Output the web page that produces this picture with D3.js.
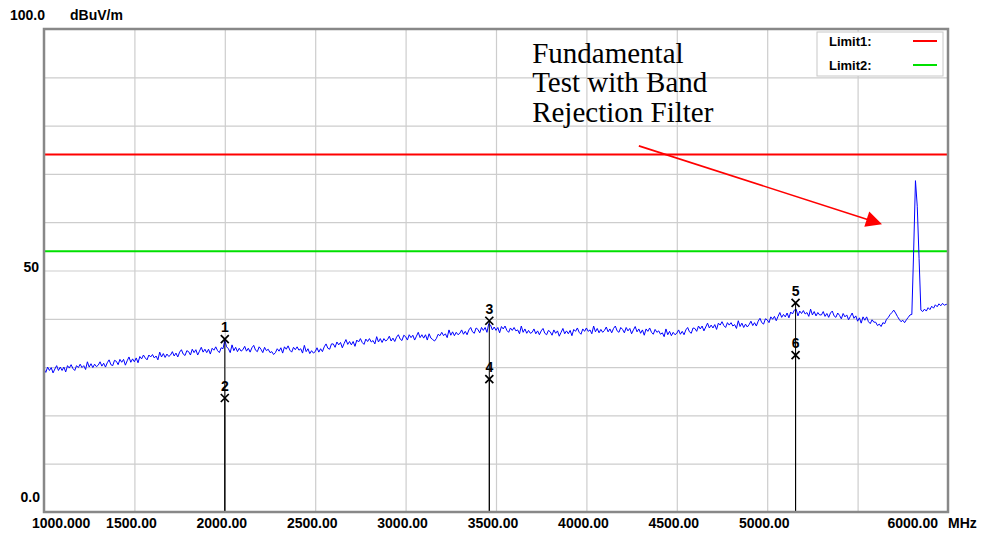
<!DOCTYPE html>
<html>
<head>
<meta charset="utf-8">
<script src="https://cdnjs.cloudflare.com/ajax/libs/d3/7.8.5/d3.min.js"></script>
<style>
	body { margin: 0; background: #fff; }
	text { font-family: "Liberation Sans", Arial, sans-serif; font-weight: bold; font-size: 14px; fill: #000; }
	.legend text { font-size: 13px; }
	.note { font-family: "Liberation Serif", "Times New Roman", serif; font-weight: normal; font-size: 29px; }
</style>
</head>
<body>
<svg id="chart" width="984" height="536"></svg>
<script>
// sweep: 1000 - 6000 MHz, one reading every 10 MHz (dBuV/m), one row = 100 MHz
var traceStart = 1000, traceStep = 10;
var traceLevel = [
	29.6, 28.9, 30.0, 29.3, 29.9, 28.8, 29.6, 30.3, 29.3, 30.0,
	29.3, 30.0, 29.0, 30.3, 29.8, 30.5, 29.7, 29.3, 30.3, 29.9,
	30.6, 29.9, 30.3, 29.5, 31.1, 30.0, 30.7, 29.9, 30.6, 30.1,
	30.4, 31.1, 30.2, 30.8, 30.0, 30.9, 31.5, 30.5, 30.3, 31.4,
	31.2, 30.5, 31.6, 31.0, 31.6, 30.4, 31.3, 32.1, 31.0, 31.7,
	31.1, 31.9, 30.9, 32.2, 31.7, 32.5, 31.9, 31.5, 32.5, 32.1,
	32.6, 31.9, 32.3, 31.5, 33.1, 32.1, 32.8, 32.0, 32.7, 32.2,
	32.5, 33.2, 32.3, 32.9, 32.1, 33.1, 33.6, 32.7, 32.4, 33.4,
	33.2, 32.5, 33.7, 33.0, 33.6, 32.5, 33.3, 34.1, 33.1, 33.7,
	33.0, 33.7, 32.7, 33.9, 33.5, 34.2, 33.4, 33.0, 34.0, 33.8,
	35.6, 34.2, 33.8, 33.0, 34.6, 33.4, 34.1, 33.2, 33.9, 33.3,
	33.6, 34.3, 33.3, 33.9, 33.1, 34.0, 34.5, 33.5, 33.2, 34.2,
	33.7, 33.0, 34.1, 33.4, 33.7, 33.0, 33.2, 32.6, 33.0, 33.8,
	33.3, 34.0, 32.9, 34.2, 33.7, 34.4, 33.5, 33.1, 34.1, 33.6,
	34.2, 33.5, 33.8, 32.9, 34.5, 33.2, 33.8, 32.8, 33.4, 32.9,
	33.2, 34.0, 33.1, 33.8, 33.2, 34.2, 34.8, 33.9, 33.7, 34.8,
	34.8, 34.1, 35.2, 34.6, 35.1, 34.0, 34.9, 35.7, 34.7, 35.3,
	34.6, 35.3, 34.3, 35.6, 35.2, 35.9, 35.1, 34.7, 35.8, 35.3,
	35.9, 35.2, 35.5, 34.8, 36.3, 35.2, 35.9, 35.1, 35.9, 35.4,
	35.7, 36.4, 35.4, 36.0, 35.3, 36.2, 36.7, 35.8, 35.5, 36.6,
	36.3, 35.6, 36.7, 36.1, 36.6, 35.6, 36.4, 37.2, 36.1, 36.7,
	36.0, 36.7, 35.6, 36.9, 36.0, 35.7, 35.4, 35.9, 36.8, 36.5,
	37.2, 36.5, 36.9, 36.1, 37.7, 36.6, 37.3, 36.5, 37.2, 36.7,
	37.0, 37.7, 36.8, 37.4, 36.7, 37.7, 38.2, 37.3, 37.0, 38.1,
	37.8, 37.1, 38.2, 37.6, 38.2, 37.2, 39.0, 38.7, 37.7, 38.3,
	37.6, 38.2, 37.1, 38.4, 37.9, 38.5, 37.6, 37.2, 38.1, 37.6,
	38.2, 37.5, 37.7, 36.9, 38.5, 37.2, 37.9, 37.0, 37.6, 37.0,
	37.2, 37.9, 36.9, 37.5, 36.7, 37.5, 38.0, 37.0, 36.7, 37.6,
	37.3, 36.6, 37.7, 37.0, 37.5, 36.4, 37.2, 38.0, 36.9, 37.5,
	36.9, 37.6, 36.5, 37.8, 37.4, 38.1, 37.2, 36.8, 37.9, 37.4,
	38.1, 37.4, 37.7, 36.9, 38.5, 37.3, 38.0, 37.1, 37.8, 37.2,
	37.6, 38.3, 37.3, 37.9, 37.1, 38.0, 38.5, 37.5, 37.2, 38.2,
	37.8, 37.1, 38.2, 37.5, 38.0, 36.9, 37.7, 38.4, 37.3, 37.9,
	37.0, 37.7, 36.6, 37.9, 37.4, 38.1, 37.2, 36.8, 37.8, 37.2,
	37.5, 36.8, 37.1, 36.3, 37.9, 36.7, 37.4, 36.5, 37.2, 36.7,
	37.0, 37.7, 36.8, 37.4, 36.7, 37.7, 38.2, 37.3, 37.0, 38.1,
	38.0, 37.4, 38.5, 37.9, 38.5, 37.5, 38.3, 39.1, 38.1, 38.7,
	38.1, 38.8, 37.8, 39.1, 38.7, 39.4, 38.6, 38.2, 39.2, 38.7,
	39.2, 38.5, 38.8, 38.0, 39.6, 38.4, 39.1, 38.2, 38.9, 38.3,
	38.8, 39.5, 38.6, 39.2, 38.5, 39.5, 40.1, 39.2, 38.9, 40.0,
	39.8, 39.2, 40.4, 39.9, 40.5, 39.6, 40.5, 41.3, 40.3, 40.9,
	40.4, 41.2, 40.2, 41.4, 41.0, 41.8, 42.0, 40.6, 41.6, 41.1,
	41.7, 41.0, 41.3, 40.5, 42.0, 40.8, 41.5, 40.6, 41.3, 40.8,
	40.8, 41.5, 40.5, 41.1, 40.3, 41.2, 41.6, 40.6, 40.3, 41.2,
	40.7, 40.0, 41.1, 40.4, 40.8, 39.8, 40.5, 41.2, 40.1, 40.6,
	39.5, 40.2, 39.1, 40.4, 39.7, 40.4, 39.4, 39.0, 39.8, 39.3,
	39.3, 38.6, 38.9, 38.4, 39.2, 39.0, 39.9, 40.3, 40.9, 41.3,
	41.8, 41.2, 40.5, 39.9, 39.4, 39.7, 39.2, 39.8, 40.3, 40.8,
	40.9, 54.0, 68.6, 63.3, 52.5, 41.8, 41.5, 42.0, 41.6, 42.3,
	41.9, 42.6, 42.2, 42.9, 42.5, 43.1, 42.7, 43.2, 42.8, 43.0,
	42.9
];

// limits
var limitName  = ["Limit1:", "Limit2:"];
var limitLevel = [74, 54];
var limitColor = ["#ff0000", "#00e000"];

// markers
var markerLabel = ["1", "2", "3", "4", "5", "6"];
var markerFreq  = [2000, 2000, 3463, 3463, 5157, 5157];
var markerLevel = [35.8, 23.6, 39.6, 27.5, 43.3, 32.5];

// axis
var xTicks = [1000, 1500, 2000, 2500, 3000, 3500, 4000, 4500, 5000, 5500, 6000];
var xLabelFreq = [1000, 1500, 2000, 2500, 3000, 3500, 4000, 4500, 5000, 6000];
var xLabelText = ["1000.000", "1500.00", "2000.00", "2500.00", "3000.00", "3500.00", "4000.00", "4500.00", "5000.00", "6000.00"];
var yTicks = [0, 10, 20, 30, 40, 50, 60, 70, 80, 90, 100];

// annotation (MHz, dBuV/m)
var noteLines = ["Fundamental", "Test with Band", "Rejection Filter"];
var notePos = [3700, 93];
var arrowFrom = [4290, 75.8];
var arrowTo = [5635, 59.6];

var margin = {top: 29, right: 36, bottom: 24, left: 44},
	width = 984 - margin.left - margin.right,
	height = 536 - margin.top - margin.bottom;

var svg = d3.select("#chart");
var g = svg.append("g")
	.attr("transform", "translate(" + margin.left + "," + margin.top + ")");

var x = d3.scaleLinear().domain([1000, 6000]).range([0, width]);
var y = d3.scaleLinear().domain([0, 100]).range([height, 0]);

// grid
g.append("g")
	.attr("class", "grid")
	.attr("transform", "translate(0," + height + ")")
	.call(d3.axisBottom(x).tickValues(xTicks.slice(1, -1)).tickSize(-height).tickFormat(""));
g.append("g")
	.attr("class", "grid")
	.call(d3.axisLeft(y).tickValues(yTicks.slice(1, -1)).tickSize(-width).tickFormat(""));
g.selectAll(".grid .domain").remove();
g.selectAll(".grid line").attr("stroke", "#cdcdcd").attr("stroke-width", 1.2);

// limit lines
g.selectAll(".limit")
	.data(limitLevel)
	.enter().append("line")
		.attr("class", "limit")
		.attr("x1", 0)
		.attr("x2", width)
		.attr("y1", function(d) { return y(d); })
		.attr("y2", function(d) { return y(d); })
		.attr("stroke", function(d, i) { return limitColor[i]; })
		.attr("stroke-width", 2);

// trace
g.append("path")
	.datum(traceLevel)
	.attr("fill", "none")
	.attr("stroke", "#0000ff")
	.attr("stroke-width", 1)
	.attr("d", d3.line()
		.x(function(d, i) { return x(traceStart + i * traceStep); })
		.y(function(d) { return y(d); }));

// markers
var mk = g.selectAll(".marker")
	.data(markerLabel)
	.enter().append("g")
		.attr("class", "marker")
		.attr("transform", function(d, i) { return "translate(" + x(markerFreq[i]) + "," + y(markerLevel[i]) + ")"; });
mk.append("line")
	.attr("x1", 0).attr("x2", 0).attr("y1", 0)
	.attr("y2", function(d, i) { return height - y(markerLevel[i]); })
	.attr("stroke", "#000").attr("stroke-width", 1);
mk.append("path")
	.attr("d", "M-4,-4L4,4M4,-4L-4,4")
	.attr("stroke", "#000").attr("stroke-width", 1.7);
mk.append("text")
	.attr("y", -7)
	.attr("text-anchor", "middle")
	.text(function(d) { return d; });

// frame
g.append("rect")
	.attr("width", width)
	.attr("height", height)
	.attr("fill", "none")
	.attr("stroke", "#888")
	.attr("stroke-width", 2.5);

// x labels
svg.selectAll(".xlab")
	.data(xLabelText)
	.enter().append("text")
		.attr("class", "xlab")
		.attr("y", 528)
		.attr("x", function(d, i) {
			var px = margin.left + x(xLabelFreq[i]);
			if (i == 0) return px - 12;
			if (i == xLabelText.length - 1) return px - 10;
			return px - 3;
		})
		.attr("text-anchor", function(d, i) {
			if (i == 0) return "start";
			if (i == xLabelText.length - 1) return "end";
			return "middle";
		})
		.text(function(d) { return d; });
svg.append("text").attr("x", margin.left + width).attr("y", 528).text("MHz");

// y labels
svg.append("text").attr("x", 10).attr("y", 20).text("100.0");
svg.append("text").attr("x", 70).attr("y", 20).text("dBuV/m");
svg.append("text").attr("x", 39).attr("y", margin.top + y(50) + 1).attr("text-anchor", "end").text("50");
svg.append("text").attr("x", 40).attr("y", margin.top + y(0) - 10).attr("text-anchor", "end").text("0.0");

// legend
var legend = g.append("g")
	.attr("class", "legend")
	.attr("transform", "translate(" + (width - 131) + ",3)");
legend.append("rect")
	.attr("width", 126).attr("height", 44)
	.attr("fill", "#fff").attr("stroke", "#c8c8c8");
var li = legend.selectAll(".li")
	.data(limitName)
	.enter().append("g")
		.attr("class", "li")
		.attr("transform", function(d, i) { return "translate(0," + (i * 24) + ")"; });
li.append("text").attr("x", 12).attr("y", 14).text(function(d) { return d; });
li.append("line")
	.attr("x1", 96).attr("x2", 120).attr("y1", 9).attr("y2", 9)
	.attr("stroke", function(d, i) { return limitColor[i]; })
	.attr("stroke-width", 2);

// annotation
g.selectAll(".note")
	.data(noteLines)
	.enter().append("text")
		.attr("class", "note")
		.attr("x", x(notePos[0]))
		.attr("y", function(d, i) { return y(notePos[1]) + i * 29.5; })
		.text(function(d) { return d; });

var ax = x(arrowFrom[0]), ay = y(arrowFrom[1]),
	bx = x(arrowTo[0]), by = y(arrowTo[1]);
var len = Math.sqrt((bx - ax) * (bx - ax) + (by - ay) * (by - ay)),
	ux = (bx - ax) / len, uy = (by - ay) / len;
g.append("line")
	.attr("x1", ax).attr("y1", ay)
	.attr("x2", bx - ux * 12).attr("y2", by - uy * 12)
	.attr("stroke", "#ff0000").attr("stroke-width", 1.6);
g.append("path")
	.attr("d", "M" + bx + "," + by +
		"L" + (bx - ux * 16 - uy * 8) + "," + (by - uy * 16 + ux * 8) +
		"L" + (bx - ux * 16 + uy * 8) + "," + (by - uy * 16 - ux * 8) + "Z")
	.attr("fill", "#ff0000");
</script>
</body>
</html>
